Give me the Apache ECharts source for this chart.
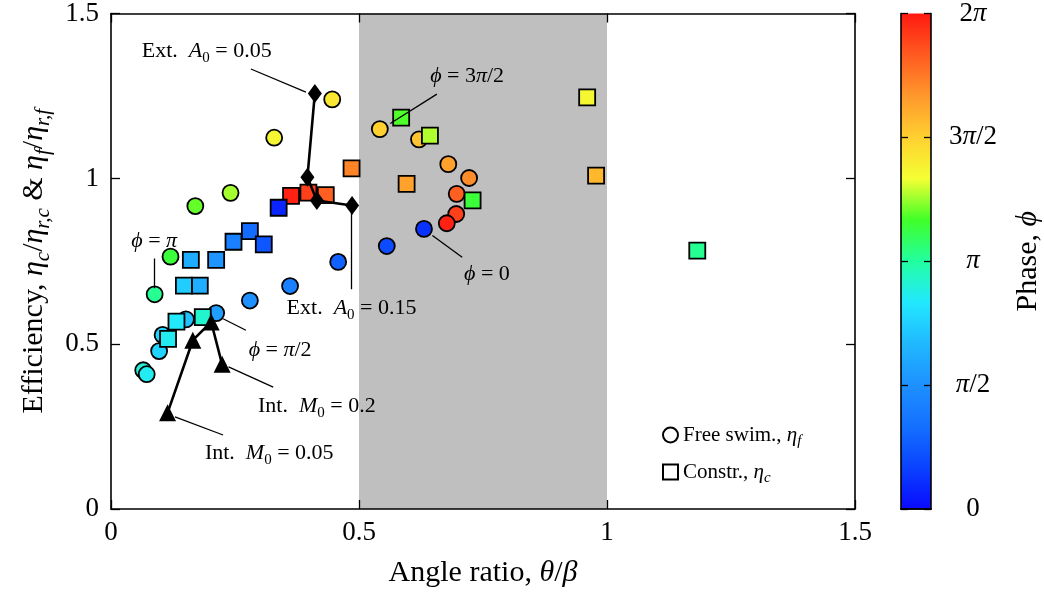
<!DOCTYPE html>
<html>
<head>
<meta charset="utf-8">
<script src="https://cdn.jsdelivr.net/npm/echarts@6/dist/echarts.min.js"></script>
<style>
  html, body { margin: 0; padding: 0; background: #fff; }
  #chart { width: 1044px; height: 594px; }
</style>
</head>
<body>
<div id="chart"></div>
<script>
// Free-swimming runs: [angle ratio θ/β, η_f/η_r,f, phase ϕ in units of π]
const freeSwim = [
  [0.446, 1.240, 1.42], [0.329, 1.124, 1.36], [0.241, 0.957, 1.26], [0.170, 0.917, 1.20],
  [0.120, 0.764, 1.14], [0.088, 0.650, 1.02], [0.458, 0.748, 0.28], [0.361, 0.675, 0.42],
  [0.280, 0.631, 0.50], [0.212, 0.593, 0.56], [0.151, 0.574, 0.70], [0.104, 0.527, 0.76],
  [0.097, 0.478, 0.76], [0.065, 0.420, 0.90], [0.072, 0.408, 0.86],
  [0.542, 1.150, 1.50], [0.621, 1.119, 1.54], [0.680, 1.044, 1.64], [0.722, 1.002, 1.70],
  [0.697, 0.954, 1.82], [0.696, 0.893, 1.90], [0.677, 0.865, 1.98], [0.631, 0.848, 0.12],
  [0.556, 0.796, 0.20]
];
// Constrained runs: [angle ratio θ/β, η_c/η_r,c, phase ϕ in units of π]
const constrained = [
  [0.960, 1.246, 1.36], [0.978, 1.009, 1.57], [1.182, 0.782, 1.02], [0.585, 1.185, 1.18],
  [0.643, 1.130, 1.27], [0.596, 0.984, 1.64], [0.729, 0.934, 1.14], [0.485, 1.031, 1.72],
  [0.433, 0.950, 1.82], [0.398, 0.958, 1.90], [0.363, 0.948, 1.98], [0.338, 0.912, 0.08],
  [0.280, 0.841, 0.32], [0.308, 0.801, 0.24], [0.247, 0.809, 0.42], [0.212, 0.754, 0.52],
  [0.161, 0.754, 0.62], [0.179, 0.676, 0.62], [0.147, 0.676, 0.74], [0.185, 0.581, 0.92],
  [0.132, 0.567, 0.84], [0.115, 0.515, 0.86]
];
// External actuation sweep, A0 = 0.05 ... 0.15
const extSweep = [[0.411, 1.258], [0.396, 1.004], [0.415, 0.934], [0.486, 0.919]];
// Internal actuation sweep, M0 = 0.05 ... 0.2
const intSweep = [[0.114, 0.291], [0.165, 0.511], [0.202, 0.566], [0.224, 0.438]];
// Shaded angle-ratio band
const shadedBand = [0.5, 1.0];
// Phase colour scale (evenly spaced from 0 to 2π)
const phaseColors = ['#0A0AFF', '#0A42FF', '#1470FF', '#1E90FF', '#20B8FF', '#22E8FF', '#22FFA0',
                     '#40FF28', '#F4FF33', '#FFD030', '#FF982C', '#FF5A20', '#FF1A10'];
const phaseTicks = [0, 0.5, 1, 1.5, 2];
const phaseTickLabels = ['{n|0}', '{i|π}{n|/2}', '{i|π}', '{n|3}{i|π}{n|/2}', '{n|2}{i|π}'];
const xTicks = [0, 0.5, 1, 1.5];
const yTicks = [0, 0.5, 1, 1.5];

// Callout texts with their anchor (text centre) and leader line
const callouts = [
  { text: '{n|Ext.  }{i|A}{s|0}{n| = 0.05}', at: [0.193, 1.386], leader: [[0.282, 1.332], [0.393, 1.262]] },
  { text: '{n|Ext.  }{i|A}{s|0}{n| = 0.15}', at: [0.485, 0.608], leader: [[0.485, 0.918], [0.485, 0.665]] },
  { text: '{i|ϕ}{n| = }{i|π}', at: [0.087, 0.812], leader: [[0.088, 0.758], [0.088, 0.668]] },
  { text: '{i|ϕ}{n| = }{i|π}{n|/2}', at: [0.341, 0.480], leader: [[0.226, 0.576], [0.272, 0.541]] },
  { text: '{n|Int.  }{i|M}{s|0}{n| = 0.2}', at: [0.415, 0.310], leader: [[0.237, 0.430], [0.327, 0.369]] },
  { text: '{n|Int.  }{i|M}{s|0}{n| = 0.05}', at: [0.319, 0.169], leader: [[0.129, 0.279], [0.226, 0.224]] },
  { text: '{i|ϕ}{n| = 3}{i|π}{n|/2}', at: [0.718, 1.311], leader: [[0.657, 1.256], [0.563, 1.167]] },
  { text: '{i|ϕ}{n| = 0}', at: [0.758, 0.712], leader: [[0.648, 0.828], [0.708, 0.762]] }
];

const FONT = 'Liberation Serif';
function richSet(size) {
  const sub = Math.round(size * 0.7);
  const pad = Math.round(size * 0.6);
  const base = { fontFamily: FONT, fill: '#000', color: '#000', textBorderWidth: 0 };
  return {
    n: Object.assign({ fontSize: size, lineHeight: size }, base),
    i: Object.assign({ fontSize: size, lineHeight: size, fontStyle: 'italic' }, base),
    s: Object.assign({ fontSize: sub, lineHeight: sub, padding: [pad, 0, 0, 0] }, base),
    si: Object.assign({ fontSize: sub, lineHeight: sub, fontStyle: 'italic', padding: [pad, 0, 0, 0] }, base)
  };
}

const axisLineStyle = { color: '#000', width: 1.6 };
const gradientStops = phaseColors.map((c, k) => ({ offset: k / (phaseColors.length - 1), color: c }));

const mainFrameAxis = (extra) => Object.assign({
  gridIndex: 0, min: 0, max: 1.5, interval: 0.5, z: 10,
  axisLine: { show: true, onZero: false, lineStyle: axisLineStyle },
  axisTick: { show: true, inside: true, length: 9, lineStyle: { color: '#000', width: 1.3 } },
  splitLine: { show: false }
}, extra);

const tickLabel = { fontFamily: FONT, fontSize: 27, color: '#000' };
const calloutRich = richSet(22);

const option = {
  animation: false,
  backgroundColor: '#fff',
  grid: [
    { left: 111, top: 12, width: 744, height: 497 },
    { left: 901, top: 12, width: 31, height: 497 }
  ],
  xAxis: [
    mainFrameAxis({
      type: 'value', position: 'bottom',
      axisLabel: Object.assign({ margin: 10, formatter: v => xTicks.includes(v) ? String(v) : '' }, tickLabel),
      name: '{n|Angle ratio, }{i|θ}{n|/}{i|β}', nameLocation: 'middle', nameGap: 49,
      nameTextStyle: { rich: richSet(30) }
    }),
    mainFrameAxis({ type: 'value', position: 'top', axisLabel: { show: false } }),
    { type: 'category', gridIndex: 1, data: ['ϕ'], position: 'bottom', z: 10,
      axisLine: { show: true, lineStyle: axisLineStyle }, axisTick: { show: false }, axisLabel: { show: false } },
    { type: 'category', gridIndex: 1, data: ['ϕ'], position: 'top', z: 10,
      axisLine: { show: true, lineStyle: axisLineStyle }, axisTick: { show: false }, axisLabel: { show: false } }
  ],
  yAxis: [
    mainFrameAxis({
      type: 'value', position: 'left',
      axisLabel: Object.assign({ margin: 12, formatter: v => yTicks.includes(v) ? String(v) : '' }, tickLabel),
      name: '{n|Efficiency, }{i|η}{si|c}{n|/}{i|η}{si|r,c}{n| & }{i|η}{si|f}{n|/}{i|η}{si|r,f}',
      nameLocation: 'middle', nameRotate: 90, nameGap: 62,
      nameTextStyle: { rich: richSet(30) }
    }),
    mainFrameAxis({ type: 'value', position: 'right', axisLabel: { show: false } }),
    { type: 'value', gridIndex: 1, min: 0, max: 2, interval: 0.5, position: 'right', z: 10,
      axisLine: { show: true, lineStyle: axisLineStyle },
      axisTick: { show: true, inside: true, length: 7, lineStyle: { color: '#000', width: 1.3 } },
      splitLine: { show: false },
      axisLabel: {
        margin: 42, align: 'center',
        formatter: v => phaseTickLabels[phaseTicks.indexOf(v)] || '',
        rich: richSet(27)
      },
      name: '{n|Phase, }{i|ϕ}', nameLocation: 'middle', nameRotate: 90, nameGap: 82,
      nameTextStyle: { rich: richSet(30) }
    },
    { type: 'value', gridIndex: 1, min: 0, max: 2, interval: 0.5, position: 'left', z: 10,
      axisLine: { show: true, lineStyle: axisLineStyle },
      axisTick: { show: true, inside: true, length: 7, lineStyle: { color: '#000', width: 1.3 } },
      splitLine: { show: false }, axisLabel: { show: false } }
  ],
  visualMap: {
    type: 'continuous', show: false, min: 0, max: 2, dimension: 2,
    seriesIndex: [1, 2], inRange: { color: phaseColors }
  },
  legend: {
    orient: 'vertical', left: 657, top: 416, itemWidth: 15, itemHeight: 15, itemGap: 9,
    data: [
      { name: 'Free swim.', icon: 'circle' },
      { name: 'Constr.', icon: 'rect' }
    ],
    itemStyle: { color: '#fff', borderColor: '#000', borderWidth: 2 },
    formatter: name => name === 'Free swim.'
      ? '{n|Free swim., }{i|η}{si|f}' : '{n|Constr., }{i|η}{si|c}',
    textStyle: { rich: richSet(21) }
  },
  series: [
    { // shaded band
      type: 'line', xAxisIndex: 0, yAxisIndex: 0, data: [], silent: true, z: 0,
      markArea: {
        silent: true, itemStyle: { color: '#BFBFBF' },
        data: [[{ xAxis: shadedBand[0] }, { xAxis: shadedBand[1] }]]
      }
    },
    {
      name: 'Free swim.', type: 'scatter', xAxisIndex: 0, yAxisIndex: 0, z: 3,
      symbol: 'circle', symbolSize: 16, data: freeSwim,
      itemStyle: { borderColor: '#000', borderWidth: 1.8, opacity: 1 }
    },
    {
      name: 'Constr.', type: 'scatter', xAxisIndex: 0, yAxisIndex: 0, z: 4,
      symbol: 'rect', symbolSize: 16, data: constrained,
      itemStyle: { borderColor: '#000', borderWidth: 1.8, opacity: 1 }
    },
    {
      type: 'line', xAxisIndex: 0, yAxisIndex: 0, z: 5, data: extSweep,
      symbol: 'diamond', symbolSize: [14, 19], showAllSymbol: true,
      lineStyle: { color: '#000', width: 2.6 }, itemStyle: { color: '#000' }
    },
    {
      type: 'line', xAxisIndex: 0, yAxisIndex: 0, z: 5, data: intSweep,
      symbol: 'triangle', symbolSize: 17, showAllSymbol: true,
      lineStyle: { color: '#000', width: 2.6 }, itemStyle: { color: '#000' }
    },
    {
      type: 'lines', coordinateSystem: 'cartesian2d', xAxisIndex: 0, yAxisIndex: 0, z: 6,
      lineStyle: { color: '#000', width: 1.3, opacity: 1 },
      data: callouts.map(c => ({ coords: c.leader }))
    },
    { // callout texts
      type: 'custom', coordinateSystem: 'cartesian2d', xAxisIndex: 0, yAxisIndex: 0, z: 7, silent: true,
      data: callouts.map(c => c.at),
      renderItem: (params, api) => {
        const p = api.coord([api.value(0), api.value(1)]);
        return {
          type: 'text',
          x: p[0], y: p[1],
          style: {
            text: callouts[params.dataIndex].text,
            rich: calloutRich,
            fill: '#000',
            align: 'center', verticalAlign: 'middle'
          }
        };
      }
    },
    { // colour bar
      type: 'bar', xAxisIndex: 2, yAxisIndex: 2, data: [2], barWidth: '100%', silent: true, z: 2,
      itemStyle: { color: new echarts.graphic.LinearGradient(0, 1, 0, 0, gradientStops) }
    }
  ]
};

const chart = echarts.init(document.getElementById('chart'));
chart.setOption(option);
</script>
</body>
</html>
